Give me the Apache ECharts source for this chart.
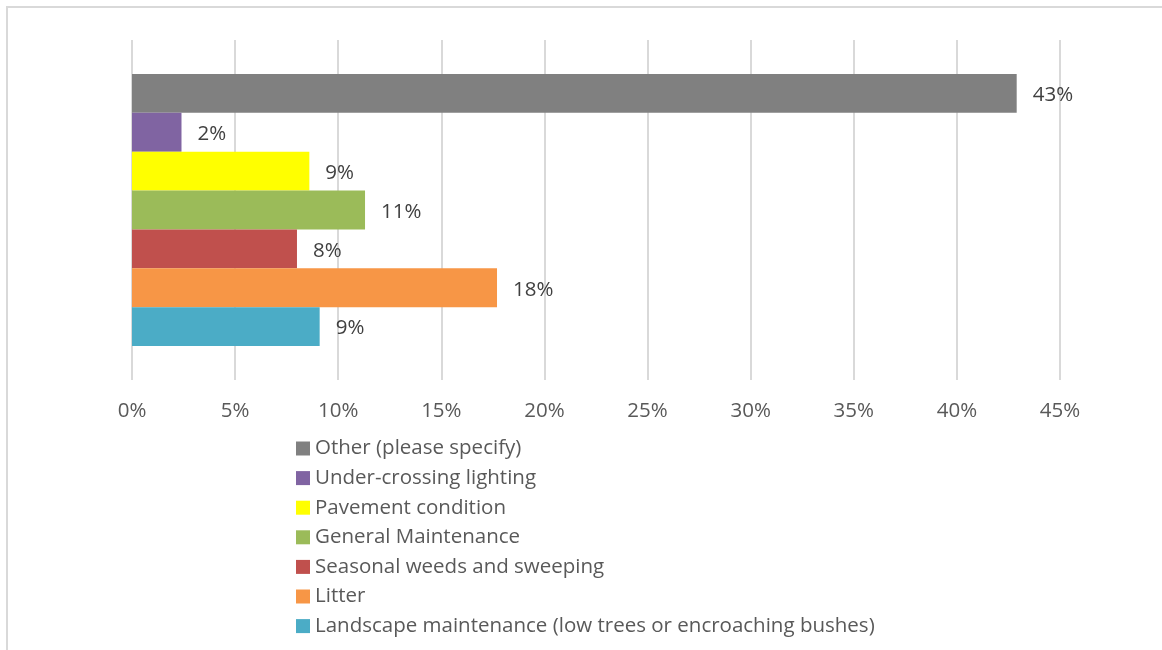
<!DOCTYPE html>
<html><head><meta charset="utf-8">
<script src="https://cdn.jsdelivr.net/npm/echarts@6/dist/echarts.min.js"></script>
<style>
html,body{margin:0;padding:0;background:#fff;overflow:hidden;}
#frame{position:absolute;left:6px;top:6px;width:1170px;height:660px;border:2px solid #d9d9d9;box-sizing:border-box;}
#main{position:absolute;left:0;top:0;width:1162px;height:650px;}
</style></head>
<body>
<div id="frame"></div>
<div id="main"></div>
<script>
// Top-to-bottom order as drawn
var seriesNames = ["Other (please specify)", "Under-crossing lighting", "Pavement condition", "General Maintenance", "Seasonal weeds and sweeping", "Litter", "Landscape maintenance (low trees or encroaching bushes)"];
var seriesValues = [42.9, 2.4, 8.6, 11.3, 8.0, 17.7, 9.1];
var seriesColors = ["#808080", "#8064a2", "#ffff00", "#9bbb59", "#c0504d", "#f79646", "#4bacc6"];
var legendOrder = seriesNames.slice();
var categories = [""];
var font = "'Open Sans', sans-serif";

var chart = echarts.init(document.getElementById('main'));
var series = seriesNames.map(function(n, i){
  return {
    name: n, type: 'bar', data: [seriesValues[i]],
    itemStyle: {color: seriesColors[i]},
    barGap: '0%', barCategoryGap: '20%',
    label: {show: true, position: 'right', distance: 16, color: '#404040', fontSize: 20.5, fontFamily: font,
      offset: [0, 2],
      formatter: function(p){ return Math.round(p.value) + '%'; }}
  };
});
chart.setOption({
  animation: false,
  grid: {left: 132, right: 102, top: 40, bottom: 270, containLabel: false},
  xAxis: {type: 'value', min: 0, max: 45, interval: 5,
    axisLine: {show: false}, axisTick: {show: false},
    splitLine: {lineStyle: {color: '#d9d9d9', width: 2}},
    axisLabel: {formatter: '{value}%', color: '#595959', fontSize: 20.5, fontFamily: font, margin: 21}},
  yAxis: {type: 'category', data: categories, axisLine: {show: false}, axisTick: {show: false}, axisLabel: {show: false}},
  legend: {data: legendOrder, orient: 'vertical', left: 296, top: 438, height: 210, padding: 0,
    itemWidth: 14, itemHeight: 14, itemGap: 8.6,
    icon: 'rect', textStyle: {color: '#595959', fontSize: 20.5, lineHeight: 20, fontFamily: font}},
  series: series
});
</script>
</body></html>
